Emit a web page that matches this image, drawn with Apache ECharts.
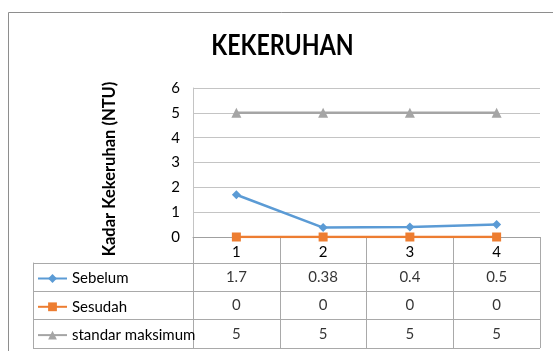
<!DOCTYPE html>
<html>
<head>
<meta charset="utf-8">
<script src="https://cdn.jsdelivr.net/npm/echarts@6/dist/echarts.min.js"></script>
<style>
  html, body { margin: 0; padding: 0; background: #ffffff; }
  #chart { width: 553px; height: 351px; }
</style>
</head>
<body>
<div id="chart"></div>
<script>
// Sample points and measured turbidity values (NTU)
const categories = ['1', '2', '3', '4'];
const sebelum = [1.7, 0.38, 0.4, 0.5];
const sesudah = [0, 0, 0, 0];
const standarMaksimum = [5, 5, 5, 5];
const seriesNames = ['Sebelum', 'Sesudah', 'standar maksimum'];
const yMin = 0, yMax = 6, yStep = 1;

const rowValues = [sebelum, sesudah, standarMaksimum];
const colors = ['#5B9BD5', '#ED7D31', '#A5A5A5'];
const symbols = ['diamond', 'rect', 'triangle'];
const symbolSizes = [9, 9, 10];

const FONT = 'Lato, "Open Sans", sans-serif';
const gridColor = '#C4C4C4';
const tableColor = '#A9A9A9';

// Cells of the data table: [column, row, value]
const cellData = [];
rowValues.forEach((vals, r) => {
  vals.forEach((v, c) => cellData.push([categories[c], seriesNames[r], v]));
});

const chart = echarts.init(document.getElementById('chart'), null, { renderer: 'canvas' });

const option = {
  animation: false,
  backgroundColor: '#ffffff',
  legend: {
    data: seriesNames,
    orient: 'vertical',
    left: 37, top: 270, height: 82, padding: 0,
    itemWidth: 29, itemHeight: 11, itemGap: 11.3,
    textStyle: { fontFamily: FONT, fontSize: 15, color: '#000000', lineHeight: 17 },
    selectedMode: false
  },
  graphic: [
    {
      type: 'rect', silent: true, z: -1,
      shape: { x: 8.5, y: 12.5, width: 700, height: 500 },
      style: { fill: 'none', stroke: '#8E8E8E', lineWidth: 1 }
    },
    {
      // chart title, in a condensed bold face
      type: 'text', silent: true,
      x: 282.5, y: 46, scaleX: 0.8,
      style: {
        text: 'KEKERUHAN', align: 'center', verticalAlign: 'middle',
        fontFamily: FONT, fontWeight: 'bold', fontSize: 29, fill: '#000000'
      }
    },
    {
      type: 'text', silent: true,
      x: 110, y: 169, rotation: Math.PI / 2,
      style: {
        text: 'Kadar Kekeruhan (NTU)', align: 'center', verticalAlign: 'middle',
        fontFamily: FONT, fontWeight: 'bold', fontSize: 16.5, fill: '#000000'
      }
    }
  ],
  grid: [
    // plot area
    { left: 193, right: 13, top: 88, bottom: 114 },
    // column dividers of the data table
    { left: 193, right: 13, top: 237, bottom: 3 },
    // row dividers of the data table (including the legend column)
    { left: 33, right: 13, top: 263, bottom: 3 },
    // value cells
    { left: 193, right: 13, top: 263, bottom: 3 }
  ],
  xAxis: [
    {
      gridIndex: 0, type: 'category', data: categories, boundaryGap: true,
      axisLine: { show: true, lineStyle: { color: '#A0A0A0', width: 1 } },
      axisTick: { show: false },
      axisLabel: { margin: 8, fontFamily: FONT, fontSize: 15, color: '#000000' },
      splitLine: { show: false }
    },
    {
      gridIndex: 1, type: 'category', data: categories, boundaryGap: true,
      axisLine: { show: false }, axisTick: { show: false }, axisLabel: { show: false },
      splitLine: { show: true, interval: 0, lineStyle: { color: tableColor, width: 1 } }
    },
    {
      gridIndex: 2, type: 'value', show: false
    },
    {
      gridIndex: 3, type: 'category', data: categories, boundaryGap: true, show: false
    }
  ],
  yAxis: [
    {
      gridIndex: 0, type: 'value', min: yMin, max: yMax, interval: yStep,
      axisLine: { show: true, lineStyle: { color: gridColor, width: 1 } },
      axisTick: { show: false },
      axisLabel: { margin: 13, fontFamily: FONT, fontSize: 15, color: '#000000' },
      splitLine: { show: true, lineStyle: { color: gridColor, width: 1 } }
    },
    {
      gridIndex: 1, type: 'value', show: false
    },
    {
      gridIndex: 2, type: 'category', data: seriesNames, inverse: true, boundaryGap: true,
      axisLine: { show: true, lineStyle: { color: tableColor, width: 1 } },
      axisTick: { show: false }, axisLabel: { show: false },
      splitLine: { show: true, interval: 0, lineStyle: { color: tableColor, width: 1 } }
    },
    {
      gridIndex: 3, type: 'category', data: seriesNames, inverse: true, boundaryGap: true, show: false
    }
  ],
  series: [
    ...seriesNames.map((name, i) => ({
      name, type: 'line', xAxisIndex: 0, yAxisIndex: 0,
      data: rowValues[i],
      symbol: symbols[i], symbolSize: symbolSizes[i], showSymbol: true,
      itemStyle: { color: colors[i] },
      lineStyle: { color: colors[i], width: 2.5 },
      z: 3 + i
    })),
    {
      name: 'tabel', type: 'scatter', xAxisIndex: 3, yAxisIndex: 3,
      data: cellData, symbolSize: 0, silent: true,
      label: {
        show: true, position: 'inside',
        formatter: p => String(p.value[2]),
        fontFamily: FONT, fontSize: 15, color: '#000000'
      }
    }
  ]
};

chart.setOption(option);
</script>
</body>
</html>
